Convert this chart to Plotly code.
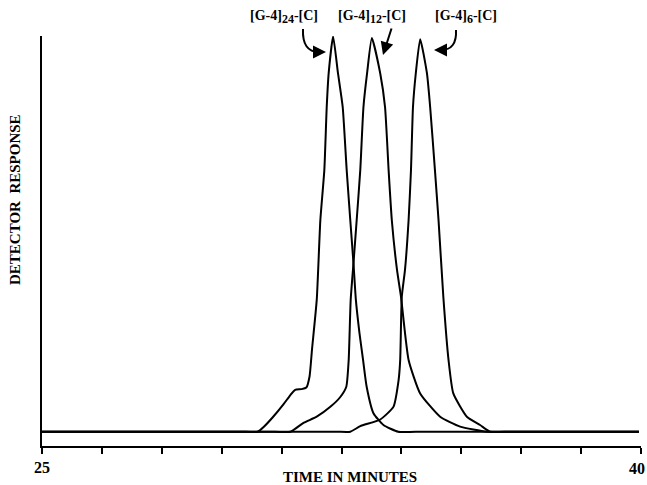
import plotly.graph_objects as go

# ---- data (time in minutes, detector response in arbitrary units) ----
t_24 = [25, 26, 27, 28, 29, 30, 30.40, 30.55, 30.79, 31.05, 31.22, 31.34, 31.50, 31.62, 31.70,
        31.76, 31.88, 31.97, 32.07, 32.13, 32.18, 32.29, 32.41, 32.53, 32.63, 32.72, 32.80,
        32.86, 32.95, 33.04, 33.13, 33.30, 33.55, 33.92, 34.5, 35.5, 36.5, 37.5, 38.5, 39.95]
y_24 = [0, 0, 0, 0, 0, 0, 0, 1.2, 3.8, 7.0, 9.3, 10.6, 10.8, 11.2, 14.0,
        20.7, 33.4, 53.6, 66.3, 82.3, 91.0, 100.2, 91.0, 82.3, 66.3, 53.6, 42.7,
        33.4, 25.0, 18.2, 11.4, 4.7, 1.7, 0, 0, 0, 0, 0, 0, 0]

t_12 = [25, 26, 27, 28, 29, 30, 30.7, 31.22, 31.54, 31.88, 32.22, 32.47, 32.62, 32.68, 32.73,
        32.80, 32.88, 32.97, 33.05, 33.14, 33.26, 33.47, 33.59, 33.68, 33.76, 33.89, 33.99,
        34.18, 34.47, 34.97, 35.47, 36.14, 36.7, 37.5, 38.5, 39.95]
y_12 = [0, 0, 0, 0, 0, 0, 0, 0, 2.2, 3.8, 6.3, 8.8, 11.4, 18.2, 33.4,
        42.7, 53.6, 66.3, 82.3, 90.8, 99.8, 90.8, 82.3, 66.3, 53.6, 41.0, 34.2,
        18.2, 9.7, 3.8, 1.3, 0, 0, 0, 0, 0]

t_6 = [25, 26, 27, 28, 29, 30, 31, 32, 32.4, 32.72, 32.97, 33.47, 33.80, 33.93, 33.97, 34.01,
       34.09, 34.18, 34.24, 34.29, 34.36, 34.47, 34.64, 34.72, 34.84, 34.93, 35.05, 35.18,
       35.30, 35.64, 35.97, 36.22, 36.7, 37.5, 38.5, 39.95]
y_6 = [0, 0, 0, 0, 0, 0, 0, 0, 0, 0, 1.4, 3.1, 6.3, 13.1, 18.2, 34.2,
       41.0, 53.6, 66.3, 82.3, 90.8, 99.5, 90.8, 82.3, 66.3, 53.6, 34.2, 18.2,
       9.7, 3.8, 1.7, 0, 0, 0, 0, 0]

x_tickvals = [25 + 1.5 * i for i in range(11)]
x_end_labels = ["25", "40"]

labels = [
    "[G-4]<sub><span style='font-size:12px'>24</span></sub>-[C]",
    "[G-4]<sub><span style='font-size:12px'>12</span></sub>-[C]",
    "[G-4]<sub><span style='font-size:12px'>6</span></sub>-[C]",
]

FONT = "Liberation Serif"
W, H = 647, 485
ML, MR, MT, MB = 42, 6, 36, 39
PW, PH = W - ML - MR, H - MT - MB


def px(xp):
    return (xp - ML) / PW


def py(yp):
    return (H - MB - yp) / PH


fig = go.Figure()
for tt, yy in [(t_24, y_24), (t_12, y_12), (t_6, y_6)]:
    fig.add_trace(go.Scatter(x=tt, y=yy, mode="lines",
                             line=dict(color="black", width=2, shape="spline", smoothing=0.5),
                             showlegend=False, hoverinfo="skip"))

fig.update_layout(
    width=W, height=H,
    margin=dict(l=ML, r=MR, t=MT, b=MB, pad=0),
    plot_bgcolor="white", paper_bgcolor="white",
    showlegend=False,
)
fig.update_xaxes(range=[25, 40], showgrid=False, zeroline=False, showline=True,
                 linecolor="black", linewidth=1.5, ticks="outside", ticklen=6,
                 tickwidth=1.5, tickcolor="black", tickmode="array",
                 tickvals=x_tickvals, showticklabels=False)
fig.update_yaxes(range=[-3.62, 100.3], showgrid=False, zeroline=False, showline=True,
                 linecolor="black", linewidth=1.5, ticks="", showticklabels=False)

ann_font = dict(family=FONT, size=14, color="black", weight="bold")
tit_font = dict(family=FONT, size=15, color="black", weight="bold")
num_font = dict(family=FONT, size=16, color="black", weight="bold")

# x end labels
fig.add_annotation(text=x_end_labels[0], xref="x", yref="paper", x=x_tickvals[0], y=py(467),
                   xanchor="center", yanchor="middle", showarrow=False, font=num_font)
fig.add_annotation(text=x_end_labels[1], xref="paper", yref="paper", x=px(647), y=py(468),
                   xanchor="right", yanchor="middle", showarrow=False, font=num_font)

# peak labels
for lab, cx in zip(labels, [284, 372, 466]):
    fig.add_annotation(text=lab, xref="paper", yref="paper", x=px(cx), y=py(17),
                       xanchor="center", yanchor="middle", showarrow=False, font=ann_font)

# axis titles
fig.add_annotation(text="TIME IN MINUTES", xref="paper", yref="paper", x=px(350), y=py(477),
                   xanchor="center", yanchor="middle", showarrow=False, font=tit_font)
fig.add_annotation(text="DETECTOR\u00a0\u00a0RESPONSE", xref="paper", yref="paper",
                   x=px(15), y=py(200), textangle=-90,
                   xanchor="center", yanchor="middle", showarrow=False, font=tit_font)

# curved arrow bodies
def P(xp, yp):
    return f"{px(xp):.5f},{py(yp):.5f}"

fig.add_shape(type="path", xref="paper", yref="paper",
              path=f"M {P(303, 29)} Q {P(302, 52)} {P(319, 52)}",
              line=dict(color="black", width=2))
fig.add_shape(type="path", xref="paper", yref="paper",
              path=f"M {P(456, 30)} Q {P(457, 50)} {P(441, 50)}",
              line=dict(color="black", width=2))

# arrow heads / straight arrow
arrow_kw = dict(text="", xref="paper", yref="paper", axref="pixel", ayref="pixel",
                showarrow=True, arrowhead=2, arrowsize=1.3, arrowwidth=2,
                arrowcolor="black", standoff=0)
fig.add_annotation(x=px(326), y=py(52), ax=-8, ay=0, **arrow_kw)
fig.add_annotation(x=px(383), y=py(55), ax=9, ay=-28, **arrow_kw)
fig.add_annotation(x=px(434), y=py(50), ax=8, ay=0, **arrow_kw)

fig.write_html("out.html")
